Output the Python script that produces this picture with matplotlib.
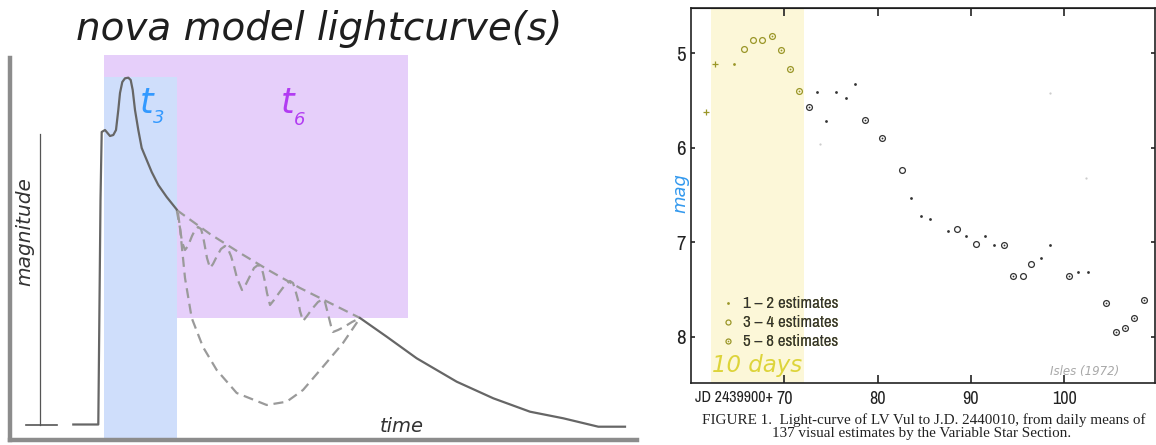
import numpy as np
import matplotlib
matplotlib.use("Agg")
import matplotlib.pyplot as plt
from matplotlib.patches import Rectangle
from matplotlib import font_manager as fm

W, H = 1156, 445

# ---------------- left panel: schematic nova light curve (sketch units) ----------------
scale_bar_t = [40, 40]
scale_bar_m = [134, 425]
scale_foot_t = [26, 57]
scale_foot_m = [424.5, 424.5]

rise_t = [73.3, 98.3, 100.5, 101.7, 105, 110, 113.3, 116, 118.3, 120, 122.3, 125, 128.3,
          130.7, 132.7, 135, 138.3, 141.7, 146.7, 151.7, 158.3, 166.7, 176.7]
rise_m = [424.5, 424.5, 200, 132, 130, 136, 135, 130, 110, 93, 82, 78.3, 77.7,
          80, 90, 110, 130, 148, 160, 172, 185, 197, 209.5]

tail_t = [360, 386.7, 416.7, 456.7, 493.3, 530, 563.3, 598.3, 625]
tail_m = [318, 336.7, 358.3, 381.7, 398.3, 411.7, 418.3, 426.7, 426.7]

smooth_t = [176.7, 210, 240, 270, 300, 330, 360]
smooth_m = [210, 234, 253, 271, 288, 303, 318]

dip_t = [176.7, 180, 185, 191.7, 203, 216.7, 236.7, 266.7, 286.7, 303, 323, 343, 360]
dip_m = [210, 228, 278, 318, 347, 370, 393, 405, 401.7, 390, 366.7, 343, 318]

osc_t = [178, 180, 182, 185, 188, 192, 195, 198, 201, 203, 205, 207, 210,
         213, 217, 221, 225, 228, 231, 234, 237, 242,
         246, 250, 254, 258, 261, 263, 265, 267, 270,
         274, 279, 285, 290, 293, 295, 298, 300, 303,
         307, 312, 318, 323, 325, 327, 329, 331, 333,
         338, 344, 352, 360]
osc_m = [213, 228, 242, 250, 246, 236, 230, 227, 229, 236, 247, 258, 268,
         264, 256, 249, 246, 249, 256, 266, 278, 290,
         284, 276, 268, 265, 267, 273, 282, 293, 305,
         300, 293, 285, 281, 283, 289, 300, 311, 321,
         316, 309, 302, 299, 302, 310, 318, 326, 332,
         330, 327, 322, 318]

t3_span = (104, 176.7)
t6_span = (176.7, 408)
top_strip = (55, 77)
t6_floor = 318

# ---------------- right panel: LV Vul 1968 (Isles 1972) ----------------
jd_plus = [61.56, 62.6]
mag_plus = [5.62, 5.11]
jd_dot = [64.6, 73.5, 74.5, 75.5, 76.6, 77.55, 83.56, 84.6, 85.6, 87.5, 89.5,
          91.5, 92.5, 97.5, 98.5, 101.5, 102.5]
mag_dot = [5.11, 5.41, 5.72, 5.41, 5.47, 5.32, 6.53, 6.72, 6.75, 6.88, 6.93,
           6.93, 7.03, 7.17, 7.03, 7.32, 7.32]
jd_open = [65.67, 66.67, 67.64, 82.56, 88.5, 90.5, 95.55, 96.48]
mag_open = [4.95, 4.855, 4.855, 6.23, 6.86, 7.02, 7.36, 7.23]
jd_full = [68.64, 69.64, 70.6, 71.6, 72.65, 78.6, 80.5, 93.54, 94.5, 100.5,
           104.45, 105.5, 106.5, 107.5, 108.5]
mag_full = [4.82, 4.96, 5.17, 5.395, 5.57, 5.71, 5.90, 7.03, 7.36, 7.36,
            7.64, 7.95, 7.91, 7.80, 7.61]
jd_faint = [73.8, 98.5, 102.3]
mag_faint = [5.96, 5.42, 6.32]

band_jd = (62.1, 72.1)
jd_ticks = [70, 80, 90, 100]
jd_labels = ["70", "80", "90", "100"]
date_labels = ["APR 25", "MAY 5", "MAY 15", "MAY 25"]
mag_ticks = [5, 6, 7, 8]
legend_labels = ["1 \u2013 2 estimates", "3 \u2013 4 estimates", "5 \u2013 8 estimates"]
legend_mag = [7.644, 7.845, 8.046]


def narrow_font():
    # the scanned figure uses a condensed typeface; take whatever narrow face is installed
    best, rank = None, 99
    for f in fm.fontManager.ttflist:
        if f.style != "normal" or f.weight not in (400, "normal", "regular"):
            continue
        name = f.fname.lower()
        if f.stretch != "condensed" and "narrow" not in name:
            continue
        if "narrow" in name or "extracondensed" in name:
            r = 0
        elif "semicondensed" in name:
            r = 2
        else:
            r = 1
        if r < rank:
            best, rank = f.fname, r
    return best


narrow_path = narrow_font()


def cond(size):
    if narrow_path:
        return fm.FontProperties(fname=narrow_path, size=size)
    return fm.FontProperties(family="Liberation Sans", size=size * 0.8)


olive = "#9a9628"
ink = "#333333"

fig = plt.figure(figsize=(W / 100, H / 100), dpi=100)

# ---- left
axL = fig.add_axes([10 / W, (H - 440) / H, 627 / W, 382 / H])
axL.set_xlim(10, 637)
axL.set_ylim(440, 58)
axL.set_xticks([])
axL.set_yticks([])
for s in ["top", "right"]:
    axL.spines[s].set_visible(False)
for s in ["left", "bottom"]:
    axL.spines[s].set_color("#8c8c8c")
    axL.spines[s].set_linewidth(3.2)

purple = "#e6cffa"
blue = "#cfdefb"
axL.add_patch(Rectangle((t3_span[0], top_strip[0]), t6_span[1] - t3_span[0],
                        top_strip[1] - top_strip[0], color=purple, lw=0, clip_on=False, zorder=1))
axL.add_patch(Rectangle((t6_span[0], top_strip[1]), t6_span[1] - t6_span[0],
                        t6_floor - top_strip[1], color=purple, lw=0, zorder=1))
axL.add_patch(Rectangle((t3_span[0], top_strip[1]), t3_span[1] - t3_span[0],
                        440 - top_strip[1], color=blue, lw=0, zorder=1))

axL.plot(scale_bar_t, scale_bar_m, color="#555555", lw=0.9, zorder=3)
axL.plot(scale_foot_t, scale_foot_m, color="#555555", lw=1.2, zorder=3)
axL.plot(rise_t, rise_m, color="#666666", lw=1.6, zorder=4, solid_joinstyle="round")
axL.plot(tail_t, tail_m, color="#666666", lw=1.6, zorder=4)
for tt, mm in [(smooth_t, smooth_m), (dip_t, dip_m), (osc_t, osc_m)]:
    axL.plot(tt, mm, color="#9a9a9a", lw=1.6, dashes=(4.5, 2.6), zorder=3)

axL.text(140, 113, "t", color="#3399ff", fontsize=25, fontstyle="italic", zorder=5)
axL.text(152.5, 123, "3", color="#3399ff", fontsize=13, fontstyle="italic", zorder=5)
axL.text(281, 113, "t", color="#b23cf2", fontsize=25, fontstyle="italic", zorder=5)
axL.text(294, 125, "6", color="#b23cf2", fontsize=13, fontstyle="italic", zorder=5)
axL.text(402, 427, "time", color="#333333", fontsize=14, fontstyle="italic",
         ha="center", va="center", zorder=5)

fig.text(319 / W, (H - 39.5) / H, "nova model lightcurve(s)", fontsize=28,
         fontstyle="italic", color="#1e1e1e", ha="center", va="baseline")
fig.text(25 / W, (H - 232) / H, "magnitude", fontsize=14.5, fontstyle="italic",
         color="#333333", rotation=90, ha="center", va="center")

# ---- right
axR = fig.add_axes([691 / W, (H - 383) / H, 464 / W, 375 / H])
axR.set_xlim(60.0, 109.72)
axR.set_ylim(8.49, 4.52)
axR.axvspan(band_jd[0], band_jd[1], color="#fcf7d8", lw=0, zorder=0)
for s in axR.spines.values():
    s.set_color("#222222")
    s.set_linewidth(1.2)

axR.set_xticks(jd_ticks)
axR.set_xticklabels(jd_labels, fontproperties=cond(13))
axR.set_yticks(mag_ticks)
axR.set_yticklabels([str(m) for m in mag_ticks], fontproperties=cond(15))
axR.tick_params(axis="x", direction="in", length=6, width=1.2, pad=6, colors="#222222")
axR.tick_params(axis="y", direction="in", length=3, width=1.2, pad=4, right=True,
                colors="#222222")

top = axR.secondary_xaxis("top")
top.set_xticks(jd_ticks)
top.set_xticklabels(date_labels, fontproperties=cond(13))
top.tick_params(direction="in", length=6, width=1.2, pad=4, colors="#222222")


def split(x, y):
    x = np.asarray(x)
    y = np.asarray(y)
    inside = x < band_jd[1]
    return (x[inside], y[inside], olive), (x[~inside], y[~inside], ink)


for x, y, c in split(jd_plus, mag_plus):
    axR.plot(x, y, "+", color=c, ms=5, mew=0.9, ls="none", zorder=3)
for x, y, c in split(jd_dot, mag_dot):
    axR.plot(x, y, "o", color=c, ms=2.0, mew=0, ls="none", zorder=3)
for x, y, c in split(jd_open, mag_open):
    axR.plot(x, y, "o", mfc="none", mec=c, ms=4.2, mew=0.9, ls="none", zorder=3)
for x, y, c in split(jd_full, mag_full):
    axR.plot(x, y, "o", mfc="none", mec=c, ms=4.2, mew=0.9, ls="none", zorder=3)
    axR.plot(x, y, "o", color=c, ms=1.3, mew=0, ls="none", zorder=3)
axR.plot(jd_faint, mag_faint, "o", color="#cccccc", ms=1.6, mew=0, ls="none", zorder=2)

# legend drawn as in the scanned figure
leg_x = 63.96
axR.plot([leg_x], [legend_mag[0]], "o", color=olive, ms=2.0, mew=0)
axR.plot([leg_x], [legend_mag[1]], "o", mfc="none", mec=olive, ms=3.6, mew=0.9)
axR.plot([leg_x], [legend_mag[2]], "o", mfc="none", mec=olive, ms=3.6, mew=0.9)
axR.plot([leg_x], [legend_mag[2]], "o", color=olive, ms=1.2, mew=0)
clip_in = Rectangle((band_jd[0], 4), band_jd[1] - band_jd[0], 5, transform=axR.transData)
clip_out = Rectangle((band_jd[1], 4), 40, 5, transform=axR.transData)
for lab, m in zip(legend_labels, legend_mag):
    for col, cp in [(olive, clip_in), (ink, clip_out)]:
        t = axR.text(65.57, m, lab, fontproperties=cond(12.2), color=col, va="center")
        t.set_clip_path(cp)

axR.text(62.22, 8.375, "10 days", fontsize=16.5, fontstyle="italic", color="#ddd43a")
axR.text(98.47, 8.406, "Isles (1972)", fontsize=8.5, fontstyle="italic", color="#a8a8a8")

fig.text(680.5 / W, (H - 193) / H, "mag", fontsize=13, fontstyle="italic", color="#3399ee",
         rotation=90, ha="center", va="center")
fig.text(695 / W, (H - 398) / H, "JD 2439900+", fontproperties=cond(11.5),
         color="#222222", ha="left", va="center")
fig.text(707 / W, (H - 3) / H, "1968", fontproperties=cond(13), color="#222222",
         ha="center", va="bottom")

fig.text(702 / W, (H - 420) / H,
         "FIGURE 1.  Light-curve of LV Vul to J.D. 2440010, from daily means of",
         family="Liberation Serif", fontsize=10.9, color="#222222", ha="left", va="center")
fig.text(922 / W, (H - 434) / H,
         "137 visual estimates by the Variable Star Section.",
         family="Liberation Serif", fontsize=10.9, color="#222222", ha="center", va="center")

fig.savefig("out.png", dpi=100)
